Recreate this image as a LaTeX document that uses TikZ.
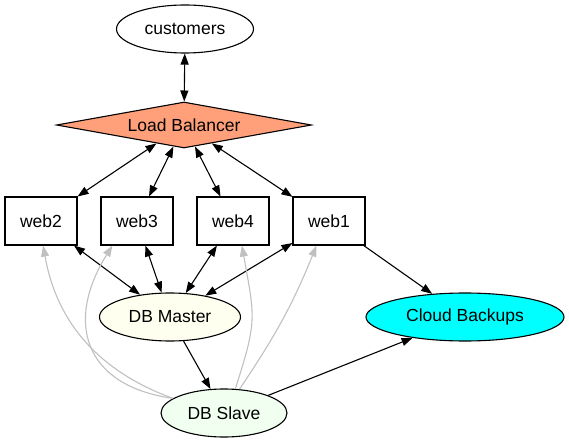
\documentclass[tikz,border=0pt]{standalone}
\usepackage{fontspec}
\setmainfont{Liberation Sans}
\usetikzlibrary{shapes.geometric,arrows.meta}
\definecolor{lbsalmon}{HTML}{FFA07A}
\definecolor{dbivory}{HTML}{FFFFF0}
\definecolor{dbhoney}{HTML}{F0FFF0}
\definecolor{backupcyan}{HTML}{00FFFF}
\definecolor{replgray}{HTML}{C0C0C0}
\begin{document}
\begin{tikzpicture}
[x=1pt,y=-1pt,
 every node/.style={font=\fontsize{17.5}{20}\selectfont, draw, line width=1.1pt, inner sep=0pt},
 oval/.style={ellipse, minimum height=48pt},
 webbox/.style={rectangle, minimum width=72pt, minimum height=48pt},
 link/.style={{Triangle[length=11pt,width=8pt]}-{Triangle[length=11pt,width=8pt]}, line width=1.1pt},
 oneway/.style={-{Triangle[length=11pt,width=8pt]}, line width=1.1pt},
 replica/.style={-{Triangle[length=11pt,width=8pt]}, line width=1.1pt, color=replgray}]
\useasboundingbox (0,0) rectangle (569,443);

\node[oval, minimum width=137pt] (customers) at (185,29) {customers};
\node[diamond, aspect=5, fill=lbsalmon, minimum width=255pt, minimum height=46pt]
  (lb) at (184,125) {Load Balancer};

\node[webbox] (web2) at (41,221) {web2};
\node[webbox] (web3) at (137,221) {web3};
\node[webbox] (web4) at (233,221) {web4};
\node[webbox] (web1) at (329,221) {web1};

\node[oval, fill=dbivory, minimum width=141pt] (master) at (170,317) {DB Master};
\node[oval, fill=backupcyan, minimum width=198pt] (cloud) at (465,317) {Cloud Backups};
\node[oval, fill=dbhoney, minimum width=126pt] (slave) at (224,413) {DB Slave};

\draw[link] (customers) -- (lb);
\foreach \w in {web2,web3,web4,web1} {
  \draw[link] (lb) -- (\w);
  \draw[link] (\w) -- (master);
}
\draw[oneway] (web1) -- (cloud);
\draw[oneway] (master) -- (slave);
\draw[oneway] (slave) -- (cloud);

% replication back to the web tier
\draw[replica] (slave.164) to[out=160,in=-80] (web2.-85);
\draw[replica] (slave.164) to[out=172,in=-122,looseness=1.4] (web3.-135);
\draw[replica] (slave.65) to[out=72,in=-80,looseness=1.3] (web4.-70);
\draw[replica] (slave.57) to[out=56,in=-112] (web1.-117);
\end{tikzpicture}
\end{document}
